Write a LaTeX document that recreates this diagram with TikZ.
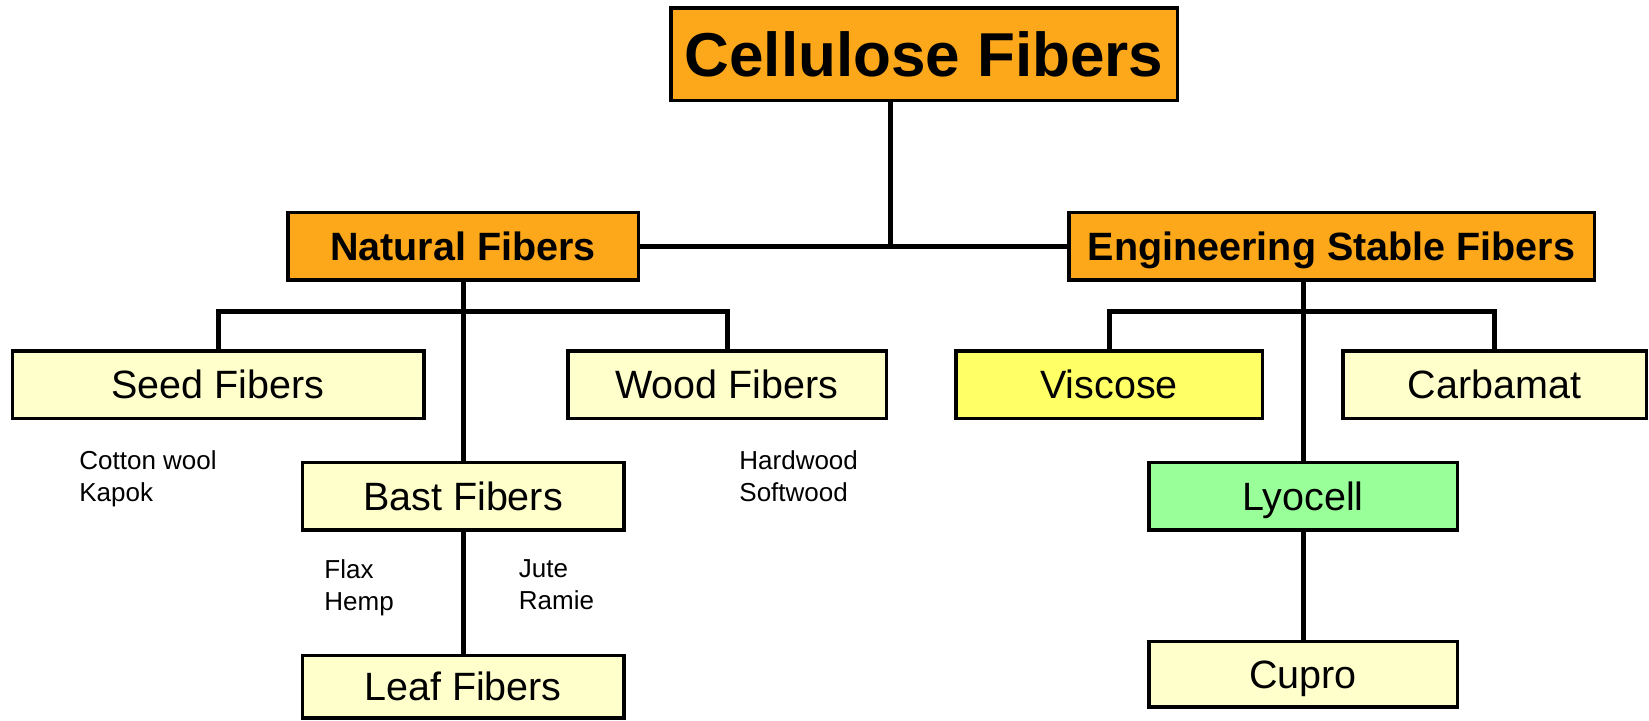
\documentclass[tikz,border=0pt]{standalone}
\usepackage{fontspec}
\setmainfont{Liberation Sans}
\usepackage{tikz}
\usetikzlibrary{positioning}
\definecolor{fiberorange}{RGB}{253,167,26}
\definecolor{fiberpale}{RGB}{255,255,204}
\definecolor{viscyellow}{RGB}{255,255,102}
\definecolor{lyogreen}{RGB}{153,255,153}

\begin{document}
\begin{tikzpicture}[x=0.5pt, y=-0.5pt,
    box/.style={draw, line width=1.75pt, inner sep=0pt, minimum height=33.75pt, text height=14.2pt, text depth=0pt, fill=fiberpale, font=\fontsize{19.75}{24}\selectfont},
    groupbox/.style={box, fill=fiberorange, font=\fontsize{19.75}{24}\selectfont\bfseries},
    note/.style={align=left, inner sep=0pt, anchor=north west, font=\fontsize{13}{16}\selectfont},
    conn/.style={line width=2.5pt}]
    \useasboundingbox (0,0) rectangle (1649,720);

    \node[box, fill=fiberorange, minimum width=253.25pt, minimum height=46.25pt, text height=22.2pt, font=\fontsize{31}{37}\selectfont\bfseries] (CF) at (924,54) {Cellulose Fibers};
    \node[groupbox, minimum width=175.25pt] (NF) at (463,246) {Natural Fibers};
    \node[groupbox, minimum width=262.75pt] (ESF) at (1331.5,246) {Engineering Stable Fibers};

    \node[box, minimum width=205.75pt] (Seed) at (218,384.5) {Seed Fibers};
    \node[box, minimum width=159.25pt] (Wood) at (727,384.5) {Wood Fibers};
    \node[box, minimum width=160.75pt, below=89.5pt of NF] (Bast) {Bast Fibers};
    \node[box, minimum width=160.75pt, minimum height=31.25pt, below=61pt of Bast] (Leaf) {Leaf Fibers};

    \node[box, fill=viscyellow, minimum width=153.25pt] (Visc) at (1109,384.5) {Viscose};
    \node[box, minimum width=151.75pt] (Carb) at (1494.5,384.5) {Carbamat};
    \node[box, fill=lyogreen, minimum width=154.25pt] (Lyo) at (1303,496) {Lyocell};
    \node[box, minimum width=154.25pt, minimum height=32.75pt, below=54pt of Lyo] (Cupro) {Cupro};

    \node[note] (seednote) at (79,450) {Cotton wool\\Kapok};
    \node[note] (woodnote) at (739,450) {Hardwood\\Softwood};
    \node[note] (bastleft) at (324,559) {Flax\\Hemp};
    \node[note] (bastright) at (518.5,559) {Jute\\Ramie};

    \coordinate (join) at (890,246);
    \coordinate (nbus) at (463,311);
    \coordinate (ebus) at (1303,311);

    \draw[conn] (CF.south -| join) -- (join);
    \draw[conn] (NF) -- (ESF);
    \draw[conn] (NF) -- (Bast);
    \draw[conn] (Seed.north) |- (nbus) -| (Wood.north);
    \draw[conn] (Bast) -- (Leaf);
    \draw[conn] (ESF.south -| Lyo.north) -- (Lyo.north);
    \draw[conn] (Visc.north) |- (ebus) -| (Carb.north);
    \draw[conn] (Lyo) -- (Cupro);
\end{tikzpicture}
\end{document}
